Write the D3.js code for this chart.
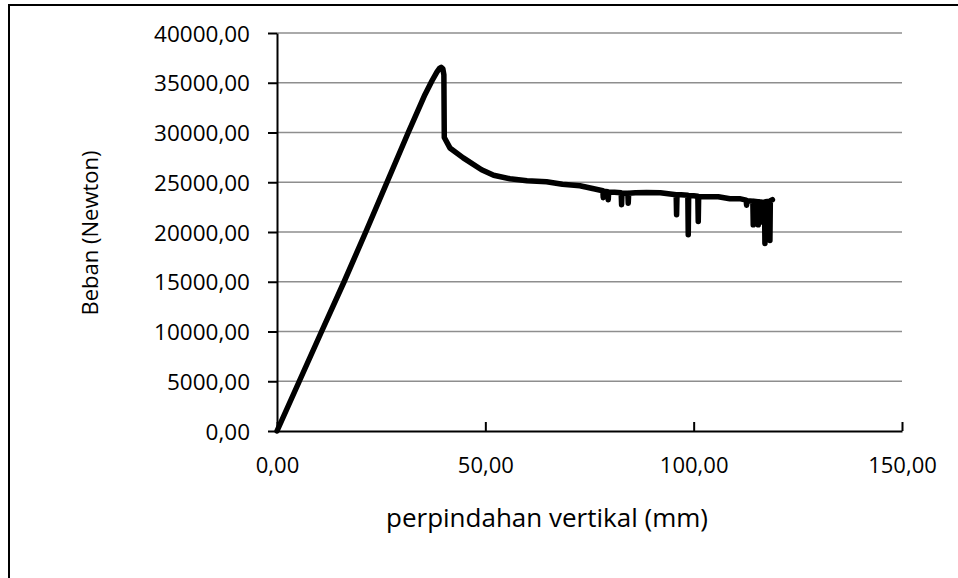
<!DOCTYPE html>
<html>
<head>
<meta charset="utf-8">
<script src="https://cdn.jsdelivr.net/npm/d3@7"></script>
<style>
  html, body { margin: 0; padding: 0; background: #fff; }
  svg { display: block; }
  text { font-family: "Open Sans", "Liberation Sans", sans-serif; fill: #000; }
</style>
</head>
<body>
<svg id="chart" width="958" height="578"></svg>
<script>
// ---- data ----
const displacement = [
  0, 5.35, 10.7, 16.1, 21.3, 26.4, 31.5, 35.5, 37.2, 38.4, 39.0, 39.4, 39.8, 40.05, 40.15,
  41.5, 44.7, 49.1, 52, 55.9, 60, 64.7, 68.5, 72.7, 76,
  78.2, 78.3, 78.4, 79.4, 79.5, 79.6, 81, 82.6, 82.7, 82.8, 84.2, 84.3, 84.4,
  86, 88.7, 92, 95.8, 95.9, 96.0, 97, 98.6, 98.7, 98.8, 100, 101.0, 101.1, 101.2,
  102.5, 105.9, 108.7, 111, 112.6, 112.7, 112.8, 114.2, 114.3, 114.4,
  115.4, 115.5, 115.6, 116.2, 116.3, 116.4, 117.0, 117.1, 117.2,
  118.2, 118.3, 118.4, 118.9
];
const load = [
  0, 5000, 10000, 15000, 20000, 25000, 30000, 33800, 35200, 36100, 36450, 36550, 36400, 35800, 29500,
  28450, 27450, 26250, 25700, 25350, 25150, 25050, 24800, 24650, 24350,
  24150, 23450, 24100, 24050, 23250, 24000, 24000, 23950, 22750, 23900, 23900, 22900, 23900,
  23950, 23970, 23950, 23750, 21730, 23750, 23750, 23700, 19720, 23650, 23650, 23600, 21050, 23550,
  23550, 23550, 23350, 23350, 23200, 22700, 23150, 23100, 20720, 23100,
  23050, 20720, 23050, 23000, 21000, 23000, 23000, 18850, 23050,
  23100, 19150, 23150, 23250
];
const xTicks = [0, 50, 100, 150];
const yTicks = [0, 5000, 10000, 15000, 20000, 25000, 30000, 35000, 40000];
const xTitle = "perpindahan vertikal (mm)";
const yTitle = "Beban (Newton)";

// ---- layout ----
const svg = d3.select("#chart");
const plot = { left: 277, right: 902, top: 33, bottom: 431 };
const fmt = v => d3.format(".2f")(v).replace(".", ",");

const x = d3.scaleLinear().domain([0, 150]).range([plot.left, plot.right]);
const y = d3.scaleLinear().domain([0, 40000]).range([plot.bottom, plot.top]);

// outer chart border (only left and top visible in frame)
svg.append("rect")
  .attr("x", 9).attr("y", 5).attr("width", 1000).attr("height", 1000)
  .attr("fill", "none").attr("stroke", "#000").attr("stroke-width", 2);

// gridlines
svg.append("g").selectAll("line").data(yTicks.filter(d => d > 0)).join("line")
  .attr("x1", plot.left).attr("x2", plot.right)
  .attr("y1", d => y(d)).attr("y2", d => y(d))
  .attr("stroke", "#8e8e8e").attr("stroke-width", 1.3);

// y axis
const yAxis = d3.axisLeft(y).tickValues(yTicks).tickSize(9).tickSizeOuter(0).tickFormat(fmt);
const gy = svg.append("g").attr("transform", `translate(${plot.left},0)`).call(yAxis);
gy.select(".domain").attr("stroke", "#000").attr("stroke-width", 2);
gy.selectAll(".tick line").attr("stroke", "#000").attr("stroke-width", 2);
gy.selectAll(".tick text").attr("x", -27).attr("dy", "0.36em")
  .style("font-size", "22.5px").style("font-family", '"Open Sans", sans-serif');

// x axis (ticks point inward/up)
const xAxis = d3.axisBottom(x).tickValues(xTicks).tickSize(-9).tickSizeOuter(0).tickFormat(fmt);
const gx = svg.append("g").attr("transform", `translate(0,${plot.bottom})`).call(xAxis);
gx.select(".domain").attr("stroke", "#000").attr("stroke-width", 2);
gx.selectAll(".tick line").attr("stroke", "#000").attr("stroke-width", 2);
gx.selectAll(".tick text").attr("y", 34).attr("dy", "0.36em")
  .style("font-size", "22px").style("font-family", '"Open Sans", sans-serif');

// data line
const line = d3.line().x((d, i) => x(displacement[i])).y((d, i) => y(load[i]));
svg.append("path").datum(load)
  .attr("d", line)
  .attr("fill", "none").attr("stroke", "#000").attr("stroke-width", 5.5)
  .attr("stroke-linejoin", "round").attr("stroke-linecap", "round");

// axis titles
svg.append("text").attr("x", 547).attr("y", 518).attr("dy", "0.35em")
  .attr("text-anchor", "middle").style("font-size", "26px").text(xTitle);
svg.append("text").attr("transform", "translate(90,233) rotate(-90)").attr("dy", "0.35em")
  .attr("text-anchor", "middle").style("font-size", "22px").text(yTitle);
</script>
</body>
</html>
